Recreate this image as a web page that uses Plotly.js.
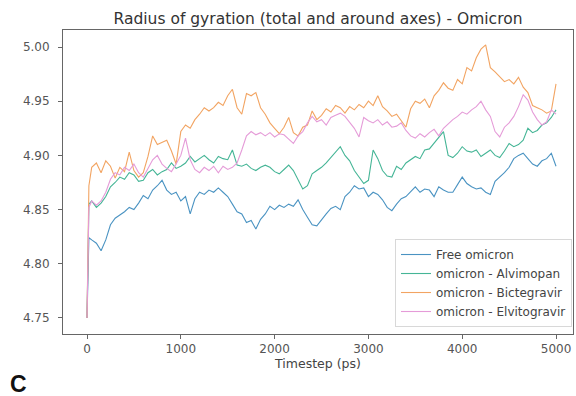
<!DOCTYPE html>
<html>
<head>
<meta charset="utf-8">
<script src="https://cdn.plot.ly/plotly-3.0.1.min.js"></script>
<style>html,body{margin:0;padding:0;background:#fff;}#chart{width:576px;height:396px;}</style>
</head>
<body>
<div id="chart"></div>
<script>
const timestep = [0, 20, 50, 100, 150, 200, 250, 300, 350, 400, 450, 500, 550, 600, 650, 700, 750, 800, 850, 900, 950,
  1000, 1050, 1100, 1150, 1200, 1250, 1300, 1350, 1400, 1450, 1500, 1550, 1600, 1650, 1700, 1750, 1800, 1850, 1900, 1950,
  2000, 2050, 2100, 2150, 2200, 2250, 2300, 2350, 2400, 2450, 2500, 2550, 2600, 2650, 2700, 2750, 2800, 2850, 2900, 2950,
  3000, 3050, 3100, 3150, 3200, 3250, 3300, 3350, 3400, 3450, 3500, 3550, 3600, 3650, 3700, 3750, 3800, 3850, 3900, 3950,
  4000, 4050, 4100, 4150, 4200, 4250, 4300, 4350, 4400, 4450, 4500, 4550, 4600, 4650, 4700, 4750, 4800, 4850, 4900, 4950, 5000];

const freeOmicron = [4.750, 4.824, 4.822, 4.819, 4.812, 4.822, 4.836, 4.842, 4.845, 4.848, 4.852, 4.850, 4.856, 4.863, 4.860, 4.868, 4.872, 4.877, 4.868, 4.864, 4.866,
  4.858, 4.862, 4.846, 4.860, 4.866, 4.864, 4.868, 4.866, 4.870, 4.866, 4.862, 4.855, 4.848, 4.846, 4.838, 4.840, 4.832, 4.841, 4.846, 4.853,
  4.850, 4.854, 4.852, 4.855, 4.853, 4.859, 4.850, 4.843, 4.836, 4.835, 4.841, 4.846, 4.851, 4.853, 4.850, 4.862, 4.866, 4.872, 4.869, 4.870,
  4.862, 4.866, 4.864, 4.859, 4.852, 4.849, 4.855, 4.860, 4.862, 4.867, 4.871, 4.866, 4.869, 4.868, 4.862, 4.871, 4.868, 4.866, 4.866, 4.873,
  4.880, 4.874, 4.871, 4.869, 4.870, 4.866, 4.864, 4.876, 4.880, 4.884, 4.889, 4.897, 4.900, 4.902, 4.897, 4.892, 4.890, 4.895, 4.897, 4.902, 4.890];

const alvimopan = [4.750, 4.855, 4.858, 4.852, 4.856, 4.862, 4.871, 4.875, 4.880, 4.878, 4.884, 4.882, 4.876, 4.877, 4.884, 4.887, 4.882, 4.885, 4.887, 4.893, 4.888,
  4.890, 4.893, 4.899, 4.894, 4.897, 4.900, 4.896, 4.893, 4.899, 4.897, 4.896, 4.905, 4.891, 4.890, 4.892, 4.888, 4.886, 4.889, 4.891, 4.889,
  4.885, 4.883, 4.887, 4.891, 4.886, 4.877, 4.869, 4.872, 4.883, 4.886, 4.889, 4.893, 4.898, 4.902, 4.908, 4.900, 4.895, 4.886, 4.880, 4.874,
  4.877, 4.905, 4.897, 4.886, 4.881, 4.880, 4.890, 4.887, 4.893, 4.896, 4.899, 4.897, 4.905, 4.906, 4.911, 4.916, 4.922, 4.900, 4.898, 4.902,
  4.908, 4.904, 4.903, 4.905, 4.899, 4.902, 4.905, 4.900, 4.898, 4.904, 4.911, 4.908, 4.910, 4.914, 4.925, 4.921, 4.923, 4.928, 4.930, 4.935, 4.942];

const bictegravir = [4.750, 4.872, 4.889, 4.893, 4.884, 4.895, 4.890, 4.879, 4.889, 4.885, 4.903, 4.886, 4.880, 4.884, 4.899, 4.918, 4.910, 4.912, 4.914, 4.904, 4.892,
  4.922, 4.928, 4.925, 4.933, 4.938, 4.944, 4.941, 4.944, 4.949, 4.946, 4.955, 4.961, 4.944, 4.938, 4.957, 4.955, 4.958, 4.944, 4.938, 4.930,
  4.925, 4.920, 4.926, 4.935, 4.921, 4.918, 4.926, 4.928, 4.941, 4.933, 4.937, 4.943, 4.940, 4.946, 4.944, 4.939, 4.945, 4.942, 4.947, 4.944,
  4.950, 4.946, 4.955, 4.945, 4.941, 4.936, 4.938, 4.932, 4.926, 4.943, 4.950, 4.948, 4.952, 4.944, 4.955, 4.960, 4.967, 4.962, 4.960, 4.970,
  4.966, 4.981, 4.978, 4.990, 4.998, 5.002, 4.981, 4.977, 4.972, 4.968, 4.970, 4.966, 4.972, 4.963, 4.958, 4.946, 4.944, 4.942, 4.939, 4.941, 4.966];

const elvitogravir = [4.750, 4.852, 4.858, 4.854, 4.858, 4.866, 4.878, 4.884, 4.882, 4.889, 4.886, 4.892, 4.884, 4.880, 4.888, 4.896, 4.900, 4.892, 4.888, 4.885, 4.892,
  4.900, 4.916, 4.896, 4.887, 4.884, 4.889, 4.886, 4.890, 4.884, 4.890, 4.887, 4.889, 4.893, 4.905, 4.918, 4.922, 4.919, 4.921, 4.918, 4.921,
  4.917, 4.920, 4.919, 4.915, 4.911, 4.918, 4.922, 4.930, 4.936, 4.931, 4.933, 4.928, 4.935, 4.937, 4.939, 4.936, 4.930, 4.925, 4.917, 4.935,
  4.932, 4.930, 4.933, 4.928, 4.931, 4.926, 4.927, 4.930, 4.923, 4.918, 4.916, 4.920, 4.917, 4.921, 4.924, 4.918, 4.925, 4.929, 4.933, 4.936,
  4.940, 4.938, 4.942, 4.945, 4.950, 4.942, 4.936, 4.922, 4.917, 4.926, 4.930, 4.936, 4.945, 4.956, 4.951, 4.940, 4.933, 4.928, 4.931, 4.942, 4.938];

const seriesNames = ['Free omicron', 'omicron - Alvimopan', 'omicron - Bictegravir', 'omicron - Elvitogravir'];
const seriesColors = ['#4a93c2', '#45b596', '#f2a462', '#e59bd8'];
const seriesValues = [freeOmicron, alvimopan, bictegravir, elvitogravir];

const xTicks = [0, 1000, 2000, 3000, 4000, 5000];
const yTicks = [4.75, 4.80, 4.85, 4.90, 4.95, 5.00];
const yTickLabels = ['4.75', '4.80', '4.85', '4.90', '4.95', '5.00'];

const traces = seriesValues.map((vals, i) => ({
  x: timestep, y: vals, type: 'scatter', mode: 'lines', name: seriesNames[i],
  line: {color: seriesColors[i], width: 1.1}
}));

const axisCommon = {
  showgrid: false, zeroline: false, showline: true, mirror: true,
  linecolor: '#666', linewidth: 1, ticks: 'outside', ticklen: 4, tickcolor: '#666', tickwidth: 1,
  tickfont: {family: 'DejaVu Sans', size: 12, color: '#555'}
};

const layout = {
  width: 576, height: 396,
  margin: {l: 63, r: 3, t: 30, b: 62},
  paper_bgcolor: '#fff', plot_bgcolor: '#fff',
  showlegend: true,
  title: {text: 'Radius of gyration (total and around axes) - Omicron', x: 0.5, xref: 'paper',
    y: 0.952, yref: 'container', yanchor: 'middle',
    font: {family: 'DejaVu Sans', size: 15.5, color: '#333'}},
  xaxis: Object.assign({}, axisCommon, {range: [-256, 5181], tickvals: xTicks, ticklabelstandoff: 0,
    title: {text: 'Timestep (ps)', standoff: 0, font: {family: 'DejaVu Sans', size: 12.5, color: '#444'}}}),
  yaxis: Object.assign({}, axisCommon, {range: [4.7352, 5.0157], tickvals: yTicks, ticktext: yTickLabels,
    ticklabelstandoff: 6}),
  legend: {x: 0.998, xanchor: 'right', y: 0.023, yanchor: 'bottom',
    bgcolor: 'rgba(255,255,255,0.8)', bordercolor: '#d8d8d8', borderwidth: 1,
    font: {family: 'DejaVu Sans', size: 12, color: '#444'}, itemwidth: 30, tracegroupgap: 0},
  annotations: [{text: '<b>C</b>', xref: 'paper', yref: 'paper', x: -0.088, y: -0.165,
    xanchor: 'center', yanchor: 'middle', showarrow: false,
    font: {family: 'Liberation Sans', size: 23, color: '#111'}}]
};

Plotly.newPlot('chart', traces, layout, {displayModeBar: false, staticPlot: true});
</script>
</body>
</html>
